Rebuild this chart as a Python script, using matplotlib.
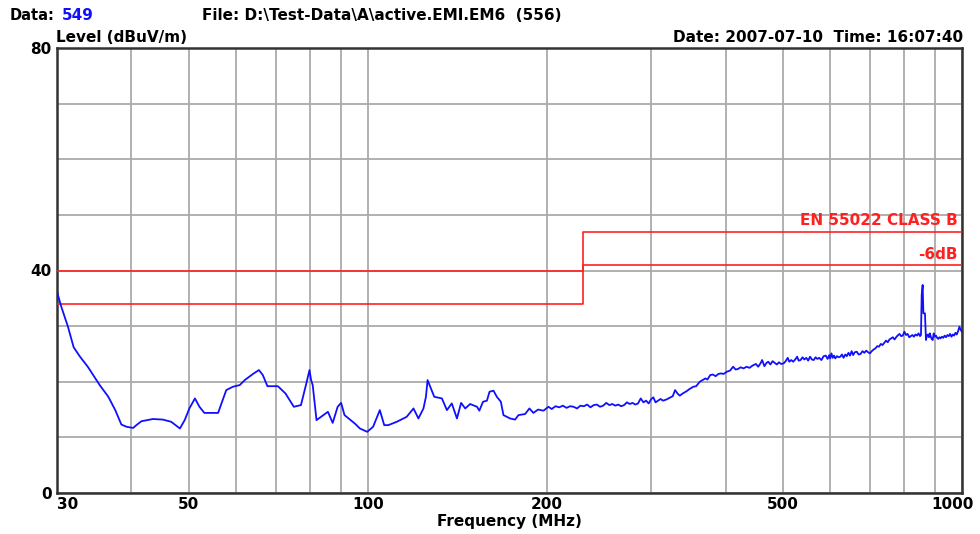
import matplotlib
matplotlib.use("Agg")
import matplotlib.pyplot as plt
import matplotlib.transforms as mtransforms

plt.rcParams["font.family"] = ["DejaVu Sans"]
plt.rcParams["font.weight"] = "bold"

# measured trace (MHz, dBuV/m)
freq = [30, 30.5, 31.3, 32.0, 32.8, 33.8, 35.4, 36.6, 37.6, 38.5, 39.3, 40.3, 40.8, 41.6,
        43.5, 45.2, 46.7, 48.3, 49.2, 50.1, 51.2, 52.1, 53.1, 56.0, 57.8, 59.3, 60.9,
        62.1, 64.1, 65.6, 66.6, 67.8, 70.6, 72.7, 75.1, 77.2, 78.7, 79.8, 80.3, 80.8,
        82.0, 85.7, 87.3, 89.0, 90.2, 91.4, 95.1, 97.0, 99.8, 102.1, 104.8, 106.6, 108.3,
        111.9, 116.3, 119.4, 121.7, 124.1, 125.3, 126.1, 127.4, 129.4, 133.3, 135.9,
        138.5, 141.3, 143.6, 145.9, 148.7, 152.7, 154.1, 156.3, 158.7, 160.3, 162.8,
        164.9, 167.5, 169.2, 173.6, 177.0, 179.3, 184.0, 187.1, 190.0, 193.5, 197.6,
        201.4, 204, 207, 210, 213, 216, 219, 222, 225, 228, 231, 234, 237, 240, 243, 246,
        249, 252, 255, 258, 261, 264, 267, 270, 273, 276, 279, 282, 285, 288, 291, 294,
        297, 300, 302.4, 305, 308, 311, 314, 318, 322, 326, 329, 332, 335, 339, 344, 348,
        353, 357, 362, 366, 370, 373, 377, 381, 385, 389, 393, 397, 402, 407, 412, 416,
        420, 424, 429, 434, 439, 444, 450, 454, 458, 461, 465, 469, 472, 476, 480, 484,
        488, 492, 496, 501, 505, 509, 512, 516, 520, 524, 528, 531, 535, 539, 543, 547,
        551, 555, 559, 563, 567, 571, 575, 580, 585, 590, 594, 598, 600, 603, 606, 609,
        612, 616, 620, 624, 628, 632, 636, 640, 644, 648, 652, 656, 660, 665, 670, 675,
        680, 685, 690, 695, 700, 705, 710, 715, 720, 725, 730, 735, 740, 745, 750, 755,
        760, 765, 770, 776, 781, 785, 790, 795, 800, 805, 810, 815, 820, 825, 830, 835,
        840, 845, 850, 853, 855.4, 858.6, 861, 866.3, 869.7, 873, 877, 880, 883, 886,
        889, 892.7, 896, 900, 904, 908, 912, 916, 920, 925, 930, 935, 940, 945, 950, 955,
        960, 965, 970, 975, 980, 985, 990, 995, 1000]
level = [36.2, 33.5, 29.9, 26.2, 24.5, 22.7, 19.4, 17.3, 14.9, 12.3, 11.9, 11.7, 12.2, 12.9,
         13.3, 13.2, 12.8, 11.6, 13.1, 15.2, 17.0, 15.5, 14.4, 14.4, 18.5, 19.1, 19.4,
         20.3, 21.4, 22.1, 21.2, 19.2, 19.2, 17.9, 15.5, 15.8, 19.4, 22.1, 20.3, 19.4,
         13.1, 14.6, 12.6, 15.5, 16.2, 14.0, 12.5, 11.6, 11.0, 11.9, 14.9, 12.2, 12.2,
         12.8, 13.7, 15.2, 13.4, 15.2, 17.3, 20.3, 19.1, 17.3, 17.0, 14.9,
         16.1, 13.4, 16.2, 15.2, 16.0, 15.5, 14.8, 16.4, 16.6, 18.2, 18.4,
         17.3, 16.4, 14.0, 13.4, 13.2, 14.0, 14.2, 15.2, 14.4, 15.0, 14.8,
         15.5, 15.1, 15.6, 15.4, 15.7, 15.3, 15.6, 15.5, 15.2, 15.7, 15.6, 15.9, 15.4, 15.8, 15.9, 15.5,
         15.7, 16.2, 15.8, 16.0, 15.7, 15.9, 15.6, 15.8, 16.3, 16.0, 16.2, 15.9, 16.1, 17.0, 16.3, 16.6,
         16.1, 16.9, 17.2, 16.3, 16.6, 16.9, 16.6, 16.8, 17.1, 17.4, 18.5, 17.9, 17.5, 17.9, 18.3, 18.7,
         19.1, 19.2, 20.0, 20.3, 20.6, 20.4, 21.2, 21.3, 21.0, 21.4, 21.5, 21.4, 21.8, 22.0, 22.7, 22.2,
         22.3, 22.6, 22.4, 22.7, 22.5, 22.9, 23.2, 22.7, 23.3, 23.9, 22.8, 23.4, 23.6, 23.1, 23.7, 23.4,
         23.1, 23.5, 23.2, 23.3, 23.7, 24.3, 23.6, 23.9, 23.6, 24.0, 24.5, 23.8, 23.9, 24.4, 24.0, 24.3,
         23.8, 24.5, 24.0, 23.9, 24.4, 24.1, 24.3, 23.9, 24.6, 24.7, 24.1, 24.8, 24.2, 25.1, 24.3, 24.7,
         24.2, 24.6, 24.4, 24.5, 24.9, 24.3, 24.9, 24.6, 25.2, 24.7, 25.5, 24.8, 25.3, 25.4, 24.9, 25.0,
         25.5, 25.2, 25.6, 25.3, 25.1, 25.5, 25.8, 26.0, 26.4, 26.3, 26.8, 26.6, 27.0, 27.4, 27.1, 27.6,
         27.8, 28.0, 27.6, 28.1, 28.4, 28.6, 28.2, 28.3, 29.0, 28.4, 28.6, 28.0, 28.2, 28.4, 28.1, 28.5,
         28.3, 28.7, 28.2, 28.4, 35.6, 37.4, 32.3, 32.3, 27.5, 28.3, 28.5, 28.0, 28.7, 28.1,
         27.7, 27.5, 28.7, 28.1, 28.3, 27.9, 27.7, 28.0, 27.8, 28.1, 27.9, 28.3, 28.0, 28.4, 28.2, 28.6,
         28.1, 28.5, 28.3, 28.8, 28.5, 29.1, 29.9, 29.3, 29.0]

# EN 55022 class B limit and the -6 dB margin line
limit_freq = [30, 230, 230, 1000]
limit_level = [40, 40, 47, 47]
margin_level = [34, 34, 41, 41]

grid_freq = [30, 40, 50, 60, 70, 80, 90, 100, 200, 300, 400, 500, 600, 700, 800, 900, 1000]
label_freq = [30, 50, 100, 200, 500, 1000]

fig = plt.figure(figsize=(9.8, 5.34), dpi=100)
ax = fig.add_axes([57 / 980, 41 / 534, 905 / 980, 445 / 534])
ax.set_xscale("log")
ax.set_xlim(30, 1000)
ax.set_ylim(0, 80)

ax.plot(limit_freq, limit_level, color="#ff2020", lw=1.2, zorder=3)
ax.plot(limit_freq, margin_level, color="#ff2020", lw=1.2, zorder=3)
ax.plot(freq, level, color="#1010ff", lw=1.3, zorder=4)

ax.set_xticks(grid_freq)
ax.set_xticklabels([str(f) if f in label_freq else "" for f in grid_freq])
ax.xaxis.set_minor_locator(matplotlib.ticker.NullLocator())
ax.set_yticks(range(0, 81, 10))
ax.set_yticklabels([str(v) if v in (0, 40, 80) else "" for v in range(0, 81, 10)])
ax.tick_params(length=0, labelsize=11, pad=4)
ax.tick_params(axis="x", pad=3)
ax.grid(True, color="#aaaaaa", lw=1.3)
ax.set_axisbelow(True)
for s in ax.spines.values():
    s.set_color("#333333")
    s.set_linewidth(1.8)

labs = ax.get_xticklabels()
labs[0].set_horizontalalignment("left")
# last label sits a bit right of the frame, like the original
labs[-1].set_horizontalalignment("right")
labs[-1].set_transform(labs[-1].get_transform()
                       + mtransforms.ScaledTranslation(12 / 100, 0, fig.dpi_scale_trans))

ax.set_xlabel("Frequency (MHz)", fontsize=11, fontweight="bold", labelpad=1)

ax.text(0.995, 47.6, "EN 55022 CLASS B", transform=ax.get_yaxis_transform(), color="#ff2020",
        ha="right", va="bottom", fontsize=11, fontweight="bold")
ax.text(0.995, 41.6, "-6dB", transform=ax.get_yaxis_transform(), color="#ff2020",
        ha="right", va="bottom", fontsize=11, fontweight="bold")

fig.text(10 / 980, 1 - 15 / 534, "Data:", fontsize=10.5, fontweight="bold", va="center")
fig.text(62 / 980, 1 - 15 / 534, "549", fontsize=11, fontweight="bold", va="center", color="#1010ff")
fig.text(202 / 980, 1 - 15 / 534, "File: D:\\Test-Data\\A\\active.EMI.EM6  (556)",
         fontsize=11, fontweight="bold", va="center")
fig.text(56 / 980, 1 - 38 / 534, "Level (dBuV/m)", fontsize=11, fontweight="bold", va="center")
fig.text(963 / 980, 1 - 38 / 534, "Date: 2007-07-10  Time: 16:07:40",
         fontsize=11, fontweight="bold", va="center", ha="right")

fig.savefig("out.png", dpi=100)
